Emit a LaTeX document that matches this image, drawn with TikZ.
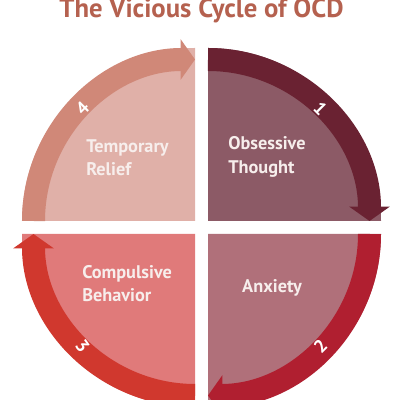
\documentclass[tikz,border=0pt]{standalone}
\usepackage{fontspec}
\setmainfont{PT Sans}
\usetikzlibrary{arrows.meta}
\definecolor{titlecol}{HTML}{B5614F}
\definecolor{obsband}{HTML}{6A2232}
\definecolor{obsfill}{HTML}{8C5A66}
\definecolor{anxband}{HTML}{B01F30}
\definecolor{anxfill}{HTML}{B0707A}
\definecolor{cmpband}{HTML}{D0382E}
\definecolor{cmpfill}{HTML}{E07A7A}
\definecolor{relband}{HTML}{D08878}
\definecolor{relfill}{HTML}{E0B0A8}
\definecolor{labtext}{HTML}{F7EEEC}
\begin{document}
\begin{tikzpicture}[x=0.025cm,y=0.025cm,
  band/.style={line width=5.75mm,-{Triangle[width=10mm,length=3.6mm]}},
  stagelabel/.style={font=\bfseries\fontsize{13}{16.5}\selectfont,text=labtext,align=left,inner sep=0pt},
  numlabel/.style={font=\bfseries\fontsize{13}{15}\selectfont,text=white,inner sep=0pt}]
\useasboundingbox[fill=white] (0,0) rectangle (400,400);
\node[font=\bfseries\fontsize{19}{22}\selectfont,text=titlecol] (title) at (201.5,389) {The Vicious Cycle of OCD};
% quadrant corners
\coordinate (c1) at (208,179);
\coordinate (c2) at (208,166);
\coordinate (c3) at (195,166);
\coordinate (c4) at (195,179);
% quadrant fills
\fill[obsfill] (c1) -- ++(0,173) arc[start angle=90,end angle=0,radius=173] -- cycle;
\fill[anxfill] (c2) -- ++(173,0) arc[start angle=0,end angle=-90,radius=173] -- cycle;
\fill[cmpfill] (c3) -- ++(0,-173) arc[start angle=270,end angle=180,radius=173] -- cycle;
\fill[relfill] (c4) -- ++(-173,0) arc[start angle=180,end angle=90,radius=173] -- cycle;
% arrow bands
\draw[band,obsband] (c1) ++(0,161.5) arc[start angle=90,end angle=0,radius=161.5];
\draw[band,anxband] (c2) ++(161.5,0) arc[start angle=0,end angle=-90,radius=161.5];
\draw[band,cmpband] (c3) ++(0,-161.5) arc[start angle=270,end angle=180,radius=161.5];
\draw[band,relband] (c4) ++(-161.5,0) arc[start angle=180,end angle=90,radius=161.5];
% step numbers
\node[numlabel,rotate=-45] (n1) at ([shift={(45:159)}]c1) {1};
\node[numlabel,rotate=45] (n2) at ([shift={(-45:159)}]c2) {2};
\node[numlabel,rotate=-55] (n3) at ([shift={(225:159)}]c3) {3};
\node[numlabel,rotate=45] (n4) at ([shift={(135:159)}]c4) {4};
% stage labels
\node[stagelabel,anchor=west] (obs) at (228,243) {Obsessive\\Thought};
\node[stagelabel] (anx) at (272,112) {Anxiety};
\node[stagelabel,anchor=west] (cmp) at (82,116) {Compulsive\\Behavior};
\node[stagelabel,anchor=west] (rel) at (86,242) {Temporary\\Relief};
\end{tikzpicture}
\end{document}
